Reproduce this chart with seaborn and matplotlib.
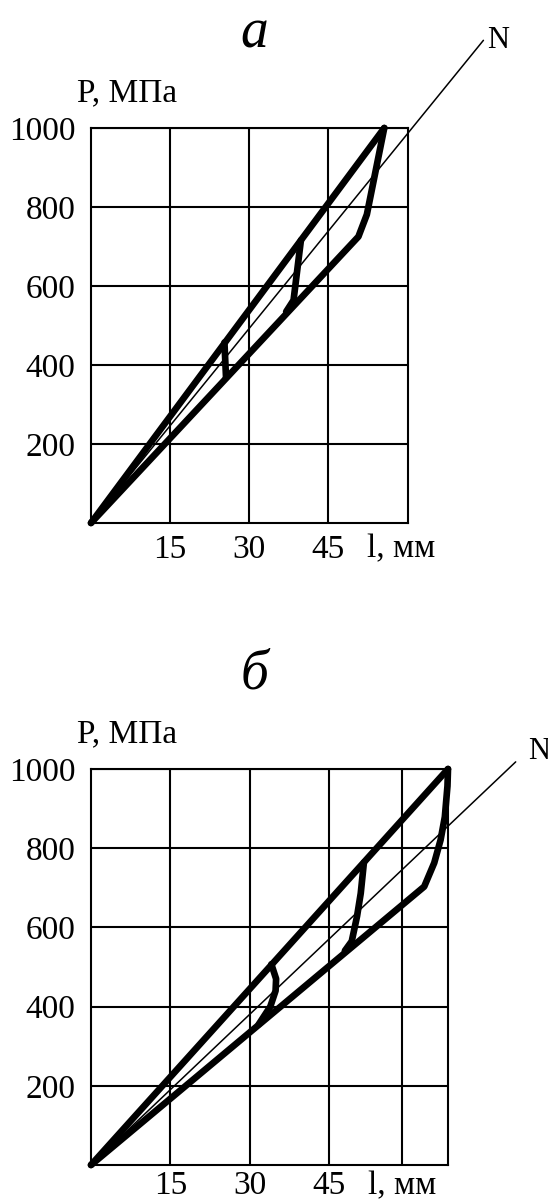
import numpy as np
import pandas as pd
import matplotlib
matplotlib.use('Agg')
import matplotlib.pyplot as plt
import seaborn as sns

# panel a (top)
a_upper_x = [0, 55.6]
a_upper_y = [0, 1000]
a_lower_x = [0, 50.7, 52.3, 55.6]
a_lower_y = [0, 725, 781, 1000]
a_loop1_x = [25.6, 25.3]
a_loop1_y = [368, 457]
a_loop2_x = [37.0, 38.4, 39.8]
a_loop2_y = [535, 564, 716]
a_n_x = [0, 74.4]
a_n_y = [0, 1222]

# panel б (bottom)
b_upper_x = [0, 67.5]
b_upper_y = [0, 1000]
b_lower_x = [0, 63.0, 64.9, 66.1, 66.9, 67.4, 67.5]
b_lower_y = [0, 703, 763, 821, 879, 957, 1000]
b_loop1_x = [31.7, 33.9, 34.9, 35.0, 34.1]
b_loop1_y = [355, 400, 440, 470, 507]
b_loop2_x = [48.0, 49.3, 50.3, 51.0, 51.6]
b_loop2_y = [541, 565, 628, 686, 764]
b_n_x = [0, 80.3]
b_n_y = [0, 1018]

y_ticks = [200, 400, 600, 800, 1000]
x_tick_labels = ['15', '30', '45']

sns.set_style('white')
plt.rcParams['font.family'] = ['Liberation Serif', 'DejaVu Serif']
plt.rcParams['text.color'] = 'black'
plt.rcParams['xtick.color'] = 'black'
plt.rcParams['ytick.color'] = 'black'

fig = plt.figure(figsize=(5.48, 12.03), dpi=100)
ax_a = fig.add_axes([91/548, 1 - 523/1203, 317/548, 395/1203])
ax_b = fig.add_axes([91/548, 1 - 1165/1203, 357/548, 396/1203])


def make_df(segs):
    rows = []
    for i, (xs, ys) in enumerate(segs):
        for x, y in zip(xs, ys):
            rows.append({'seg': i, 'x': x, 'y': y})
    return pd.DataFrame(rows)


def draw(ax, thick, n_line, xmax, xgrid, title, nlab, xpad):
    df = make_df(thick)
    sns.lineplot(data=df, x='x', y='y', units='seg', estimator=None, sort=False,
                 color='black', lw=4.8, ax=ax, legend=False)
    dn = pd.DataFrame({'x': n_line[0], 'y': n_line[1]})
    sns.lineplot(data=dn, x='x', y='y', estimator=None, sort=False,
                 color='black', lw=1.1, ax=ax, legend=False)
    for ln in ax.lines:
        ln.set_clip_on(False)
        ln.set_solid_capstyle('round')
        ln.set_solid_joinstyle('round')
    ax.set_xlim(0, xmax)
    ax.set_ylim(0, 1000)
    ax.set_xticks(xgrid)
    ax.set_xticklabels(x_tick_labels + [''] * (len(xgrid) - 3))
    ax.set_yticks(y_ticks)
    ax.set_yticklabels([str(v) for v in y_ticks])
    ax.tick_params(length=0, labelsize=24, pad=11)
    ax.tick_params(axis='x', pad=xpad)
    ax.grid(True, color='black', lw=1.5)
    ax.set_axisbelow(True)
    for s in ax.spines.values():
        s.set_color('black')
        s.set_linewidth(1.5)
    ax.set_xlabel('')
    ax.set_ylabel('')
    ax.annotate('l, мм', xy=(52.3, 0), xycoords=('data', 'axes fraction'),
                xytext=(0, -xpad), textcoords='offset points', ha='left', va='top', fontsize=24)
    ax.annotate('P, МПа', xy=(0, 1), xycoords='axes fraction',
                xytext=(-10, 19), textcoords='offset points', ha='left', va='baseline', fontsize=24)
    ax.annotate(title, xy=(31.0, 1), xycoords=('data', 'axes fraction'),
                xytext=(0, 58), textcoords='offset points', ha='center', va='baseline',
                fontsize=40, style='italic')
    ax.annotate('N', xy=nlab, xycoords='data', xytext=(3, 0), textcoords='offset points',
                ha='left', va='center', fontsize=22, annotation_clip=False)


draw(ax_a, [(a_upper_x, a_upper_y), (a_lower_x, a_lower_y), (a_loop1_x, a_loop1_y), (a_loop2_x, a_loop2_y)],
     (a_n_x, a_n_y), 60.1, [15, 30, 45], 'а', (a_n_x[1], a_n_y[1]), 8)
draw(ax_b, [(b_upper_x, b_upper_y), (b_lower_x, b_lower_y), (b_loop1_x, b_loop1_y), (b_loop2_x, b_loop2_y)],
     (b_n_x, b_n_y), 67.5, [15, 30, 45, 58.8], 'б', (b_n_x[1] + 1.5, b_n_y[1] + 25), 4)

fig.savefig('out.png', dpi=100)
